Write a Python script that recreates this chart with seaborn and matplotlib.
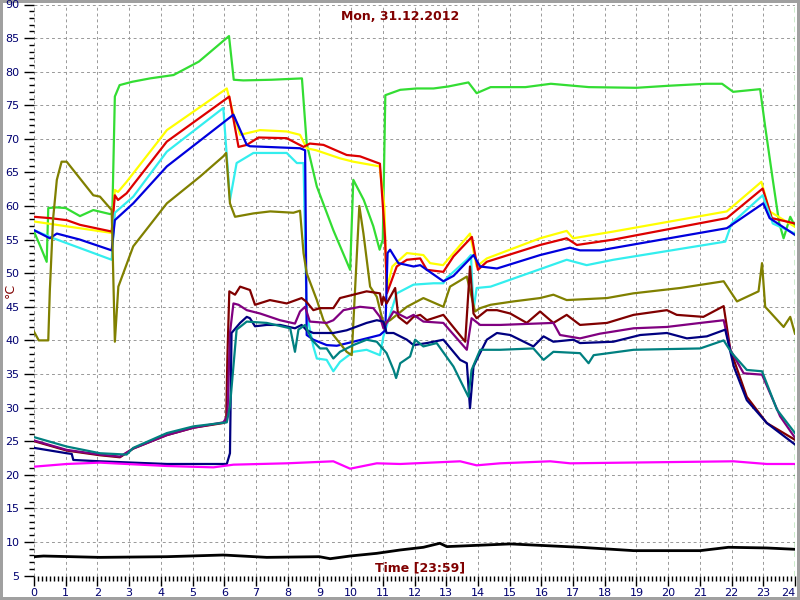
import matplotlib
matplotlib.use("Agg")
import matplotlib.pyplot as plt
from matplotlib.ticker import MultipleLocator
import seaborn as sns

# ── Data (hour of day, °C) ───────────────────────────────────────────────────
green_h = [0.0, 0.2, 0.4, 0.45, 0.7, 1.0, 1.45, 1.87, 2.4, 2.47,
           2.55, 2.7, 3.1, 3.66, 4.4, 4.8, 5.2, 6.15, 6.3, 6.6,
           7.5, 8.45, 8.6, 8.92, 9.44, 9.97, 10.07, 10.4, 10.7, 10.9,
           11.0, 11.08, 11.55, 12.07, 12.6, 13.07, 13.7, 13.96, 14.4, 15.5,
           16.3, 17.5, 19.0, 20.0, 21.2, 21.7, 22.05, 22.9, 23.06, 23.3,
           23.5, 23.64, 23.85, 24.0]
green_v = [56.2, 54.0, 51.7, 59.7, 59.8, 59.7, 58.5, 59.4, 58.8, 58.9,
           76.3, 78.0, 78.5, 79.0, 79.5, 80.5, 81.5, 85.3, 78.8, 78.7,
           78.8, 79.0, 69.3, 62.9, 56.4, 50.5, 63.9, 60.9, 57.0, 53.5,
           55.0, 76.5, 77.3, 77.5, 77.5, 77.8, 78.4, 76.8, 77.7, 77.7,
           78.2, 77.7, 77.6, 77.9, 78.2, 78.2, 77.0, 77.4, 71.8, 63.9,
           57.5, 55.2, 58.4, 57.0]

yellow_h = [0.0, 1.0, 2.45, 2.55, 2.65, 2.92, 4.19, 6.08, 6.28, 6.5,
            7.13, 7.97, 8.39, 8.6, 8.9, 9.65, 10.07, 10.9, 11.05, 11.12,
            11.3, 11.76, 12.28, 12.49, 12.9, 13.23, 13.75, 13.96, 14.28, 15.96,
            16.8, 17.0, 18.27, 21.85, 22.94, 23.2, 24.0]
yellow_v = [57.7, 57.0, 56.0, 62.4, 62.1, 63.6, 71.3, 77.5, 73.8, 70.6,
            71.3, 71.1, 70.6, 68.6, 68.3, 67.1, 66.6, 65.9, 60.0, 47.5,
            51.0, 53.0, 52.7, 51.5, 51.2, 53.0, 55.9, 51.0, 52.2, 55.2,
            56.3, 55.2, 56.2, 59.2, 63.6, 59.2, 56.9]

red_h = [0.0, 0.5, 1.03, 1.45, 2.45, 2.55, 2.65, 2.92, 4.19, 6.16,
         6.45, 6.71, 7.08, 7.97, 8.5, 8.7, 9.13, 9.86, 10.28, 10.91,
         11.07, 11.13, 11.44, 11.76, 12.18, 12.39, 12.91, 13.23, 13.81, 14.0,
         14.28, 15.96, 16.8, 17.12, 18.27, 21.85, 22.98, 23.27, 24.0]
red_v = [58.4, 58.2, 57.9, 57.2, 56.2, 61.6, 60.9, 61.9, 69.6, 76.3,
         68.8, 69.1, 70.2, 70.1, 68.8, 69.3, 69.1, 67.6, 67.4, 66.3,
         55.4, 47.0, 51.0, 52.0, 52.2, 50.5, 50.2, 52.5, 55.4, 50.5,
         51.7, 54.2, 55.2, 54.2, 55.0, 58.2, 62.6, 58.2, 57.4]

cyan_h = [0.0, 0.5, 2.45, 2.55, 3.13, 4.19, 5.97, 6.18, 6.39, 6.92,
          7.97, 8.29, 8.5, 8.6, 8.81, 8.92, 9.23, 9.44, 9.65, 10.07,
          10.49, 10.91, 11.02, 11.44, 11.97, 12.6, 12.91, 13.02, 13.65, 13.78,
          13.86, 13.96, 14.4, 16.8, 17.43, 18.27, 21.8, 22.0, 22.98, 23.3,
          24.0]
cyan_v = [56.4, 55.4, 52.0, 59.0, 61.4, 68.1, 74.6, 60.9, 66.4, 67.9,
          67.9, 66.4, 66.4, 44.0, 39.1, 37.3, 37.1, 35.4, 36.8, 38.3,
          38.6, 37.8, 40.6, 47.0, 48.3, 48.5, 48.5, 49.3, 52.0, 52.7,
          44.5, 47.8, 48.0, 52.0, 51.2, 52.0, 54.7, 57.4, 61.6, 57.4,
          55.9]

blue_h = [0.0, 0.5, 0.72, 1.45, 2.45, 2.55, 3.13, 4.19, 6.29, 6.71,
          6.81, 8.39, 8.55, 8.6, 8.81, 9.23, 9.55, 10.07, 10.49, 10.91,
          11.08, 11.15, 11.23, 11.49, 11.97, 12.18, 12.39, 12.91, 13.23, 13.86,
          14.07, 14.6, 15.96, 16.9, 17.22, 17.85, 21.85, 23.0, 23.2, 24.0]
blue_v = [56.4, 55.2, 55.9, 55.0, 53.4, 57.9, 60.4, 65.9, 73.6, 69.1,
          68.9, 68.6, 68.3, 40.8, 40.1, 39.3, 39.2, 39.8, 40.3, 40.8,
          41.5, 53.0, 53.5, 51.5, 51.0, 51.2, 50.5, 48.8, 49.6, 52.7,
          51.0, 50.7, 52.7, 53.8, 53.4, 53.4, 56.7, 60.4, 58.2, 55.7]

olive_h = [0.0, 0.15, 0.45, 0.5, 0.6, 0.72, 0.87, 1.03, 1.45, 1.87,
           2.08, 2.45, 2.55, 2.66, 3.13, 4.19, 5.24, 5.97, 6.06, 6.18,
           6.34, 6.92, 7.45, 8.18, 8.39, 8.5, 8.6, 8.92, 9.13, 9.44,
           9.86, 10.02, 10.26, 10.39, 10.6, 10.81, 11.02, 11.23, 11.76, 12.28,
           12.91, 13.12, 13.65, 13.91, 14.07, 14.4, 15.12, 15.96, 16.38, 16.8,
           18.07, 18.9, 20.38, 21.75, 22.17, 22.85, 22.96, 23.06, 23.64, 23.85,
           24.0]
olive_v = [41.3, 40.0, 40.0, 47.5, 58.0, 63.9, 66.6, 66.6, 64.1, 61.6,
           61.4, 59.4, 39.8, 48.0, 54.0, 60.4, 64.4, 67.4, 67.9, 60.4,
           58.4, 58.9, 59.2, 59.0, 59.3, 53.0, 50.0, 46.0, 43.0, 40.8,
           38.3, 37.8, 60.0, 55.9, 48.0, 46.5, 42.5, 43.0, 45.0, 46.3,
           45.0, 48.0, 49.5, 44.3, 44.8, 45.3, 45.8, 46.3, 46.8, 46.0,
           46.3, 47.0, 47.8, 48.8, 45.8, 47.3, 51.5, 45.0, 42.0, 43.5,
           41.0]

maroon_h = [0.0, 1.03, 2.08, 2.71, 3.13, 4.19, 5.03, 5.97, 6.06, 6.1,
            6.16, 6.34, 6.5, 6.81, 6.97, 7.44, 7.97, 8.44, 8.58, 8.81,
            9.02, 9.44, 9.65, 10.07, 10.49, 10.91, 10.97, 11.02, 11.12, 11.39,
            11.49, 11.76, 11.97, 12.18, 12.39, 12.91, 13.6, 13.75, 13.86, 13.96,
            14.28, 14.6, 15.02, 15.54, 15.96, 16.38, 16.8, 17.22, 18.07, 18.91,
            19.96, 20.27, 21.11, 21.43, 21.75, 21.96, 22.48, 23.11, 24.0]
maroon_v = [25.0, 23.6, 22.9, 22.6, 23.9, 25.9, 27.0, 27.7, 27.9, 37.6,
            47.3, 46.8, 48.0, 47.5, 45.3, 46.0, 45.5, 46.3, 45.8, 44.5,
            44.8, 44.8, 46.3, 46.8, 47.3, 47.0, 45.3, 46.5, 45.5, 47.8,
            43.5, 42.5, 43.5, 43.8, 43.0, 43.8, 39.8, 51.0, 44.0, 43.3,
            44.5, 44.5, 44.0, 42.6, 44.3, 42.6, 43.8, 42.3, 42.6, 43.8,
            44.5, 43.8, 43.5, 44.3, 45.1, 38.6, 31.6, 27.7, 25.2]

purple_h = [0.0, 1.03, 2.08, 2.71, 3.13, 4.19, 5.03, 5.97, 6.1, 6.18,
            6.29, 6.45, 6.71, 7.13, 7.76, 8.23, 8.39, 8.55, 8.7, 9.23,
            9.44, 9.76, 10.28, 10.7, 10.91, 11.02, 11.34, 11.76, 11.97, 12.28,
            12.91, 13.02, 13.65, 13.8, 14.07, 14.7, 16.38, 16.59, 17.22, 17.85,
            18.91, 19.96, 21.02, 21.75, 21.96, 22.38, 22.96, 23.53, 24.0]
purple_v = [25.1, 23.7, 23.0, 22.7, 23.9, 25.9, 27.0, 27.8, 28.7, 41.1,
            45.5, 45.3, 44.5, 44.0, 43.0, 42.5, 44.3, 45.0, 42.8, 42.6,
            43.0, 44.5, 45.0, 44.8, 43.5, 41.8, 44.3, 43.3, 43.8, 42.8,
            42.6, 42.0, 38.6, 43.3, 42.3, 42.3, 42.6, 40.8, 40.3, 41.0,
            41.8, 42.0, 42.6, 43.0, 38.6, 35.1, 34.9, 28.7, 25.5]

navy_h = [0.0, 1.03, 1.19, 1.24, 2.08, 3.13, 4.19, 6.08, 6.18, 6.23,
          6.5, 6.71, 6.81, 6.97, 7.34, 7.76, 8.23, 8.44, 8.6, 8.81,
          9.44, 9.86, 10.49, 10.81, 11.02, 11.12, 11.34, 11.76, 11.97, 12.39,
          12.91, 13.44, 13.65, 13.75, 13.86, 13.96, 14.28, 14.6, 15.02, 15.75,
          16.07, 16.38, 17.01, 17.22, 18.27, 19.12, 19.96, 20.59, 21.22, 21.8,
          22.07, 22.48, 23.11, 24.0]
navy_v = [24.0, 23.2, 23.1, 22.2, 22.0, 21.8, 21.6, 21.6, 23.2, 41.1,
          42.6, 43.5, 43.3, 42.1, 42.3, 42.3, 41.8, 42.3, 41.5, 41.1,
          41.1, 41.5, 42.6, 43.0, 42.8, 41.1, 41.1, 40.1, 39.3, 39.6,
          40.1, 37.1, 36.6, 29.9, 36.1, 37.1, 40.1, 41.1, 40.8, 39.1,
          40.6, 39.8, 40.1, 39.6, 39.8, 40.8, 41.1, 40.3, 40.6, 41.6,
          36.1, 31.1, 27.7, 24.5]

teal_h = [0.0, 1.03, 2.08, 2.92, 3.13, 4.19, 5.03, 6.08, 6.18, 6.39,
          6.71, 7.34, 8.08, 8.23, 8.34, 8.55, 8.76, 9.02, 9.23, 9.44,
          9.65, 10.07, 10.49, 10.81, 11.12, 11.34, 11.42, 11.55, 11.86, 12.02,
          12.28, 12.7, 13.23, 13.7, 13.8, 14.07, 14.7, 15.75, 16.07, 16.38,
          17.22, 17.49, 17.65, 18.91, 21.01, 21.75, 22.01, 22.48, 22.96, 23.43,
          24.0]
teal_v = [25.6, 24.2, 23.2, 23.0, 24.0, 26.2, 27.2, 27.8, 30.2, 41.6,
          42.8, 42.6, 41.8, 38.3, 41.6, 42.3, 40.1, 38.8, 38.8, 37.3,
          38.3, 39.3, 40.1, 39.8, 38.1, 35.6, 34.4, 36.6, 37.6, 40.1,
          39.1, 39.6, 36.1, 31.6, 35.6, 38.6, 38.6, 38.8, 37.1, 38.3,
          38.1, 36.6, 37.8, 38.6, 38.8, 40.0, 38.1, 35.6, 35.4, 29.7,
          26.2]

magenta_h = [0.0, 1.03, 2.08, 4.19, 5.66, 6.29, 7.97, 9.44, 9.97, 10.81,
             11.55, 13.44, 13.96, 14.7, 16.28, 16.91, 22.06, 23.11, 24.0]
magenta_v = [21.2, 21.6, 21.8, 21.3, 21.1, 21.5, 21.7, 22.0, 20.9, 21.7,
             21.6, 22.0, 21.4, 21.7, 22.0, 21.7, 22.0, 21.6, 21.6]

black_h = [0.0, 0.3, 2.08, 4.19, 5.97, 7.34, 9.0, 9.34, 9.97, 10.81,
           11.55, 12.28, 12.8, 13.02, 15.02, 17.22, 18.91, 21.01, 21.9, 23.11,
           24.0]
black_v = [7.8, 7.9, 7.7, 7.8, 8.05, 7.7, 7.8, 7.5, 7.9, 8.3,
           8.8, 9.2, 9.8, 9.3, 9.7, 9.2, 8.7, 8.7, 9.2, 9.1,
           8.9]

hour_ticks = list(range(0, 25))
temp_ticks = list(range(5, 91, 5))

series = [
    (green_h,   green_v,   "#33dd33", 1.6),
    (yellow_h,  yellow_v,  "#ffff00", 1.6),
    (red_h,     red_v,     "#dd0000", 1.6),
    (cyan_h,    cyan_v,    "#33eeee", 1.6),
    (blue_h,    blue_v,    "#0000dd", 1.6),
    (olive_h,   olive_v,   "#808000", 1.6),
    (maroon_h,  maroon_v,  "#800000", 1.6),
    (purple_h,  purple_v,  "#800080", 1.6),
    (navy_h,    navy_v,    "#000080", 1.6),
    (teal_h,    teal_v,    "#008080", 1.6),
    (magenta_h, magenta_v, "#ff00ff", 1.6),
    (black_h,   black_v,   "#000000", 2.0),
]

# ── Figure ────────────────────────────────────────────────────────────────────
plt.rcParams["font.family"] = ["DejaVu Sans"]
fig = plt.figure(figsize=(8, 6), dpi=100)
fig.patch.set_facecolor("white")
fig.patch.set_edgecolor("#a0a0a0")
fig.patch.set_linewidth(3)
ax = fig.add_axes([34 / 800, 24.5 / 600, 761 / 800, 571 / 600])

for hx, vy, col, lw in series:
    sns.lineplot(x=hx, y=vy, color=col, linewidth=lw, ax=ax,
                 estimator=None, sort=False, legend=False)

# cursor line at the end of the day
ax.axvline(24, color="#00a000", ls=(0, (4, 3)), lw=1)

ax.set_xlim(0, 24)
ax.set_ylim(5, 90)
ax.set_xticks(hour_ticks)
ax.set_yticks(temp_ticks)
ax.xaxis.set_minor_locator(MultipleLocator(0.125))
ax.yaxis.set_minor_locator(MultipleLocator(1))
ax.grid(True, which="major", color="#999999", ls=(0, (3, 3)), lw=0.7)
ax.set_axisbelow(True)
for sp in ax.spines.values():
    sp.set_visible(False)

ax.tick_params(which="major", length=7, width=1, color="black",
               labelsize=8, labelcolor="#000070")
ax.tick_params(which="minor", length=3.5, width=1, color="black")
ax.tick_params(axis="x", which="both", pad=2)
ax.set_xlabel("")
ax.set_ylabel("")

# keep the last hour label inside the window, as in the original
last_tick = ax.xaxis.get_major_ticks()[-1]
last_tick.label1.set_horizontalalignment("right")

fig.text(0.5, 1 - 17 / 600, "Mon, 31.12.2012", color="#800000",
         fontsize=9, fontweight="bold", ha="center", va="center")
fig.text(420 / 800, 1 - 568 / 600, "Time [23:59]", color="#800000",
         fontsize=9, fontweight="bold", ha="center", va="center")
fig.text(10 / 800, 1 - 290 / 600, "°C", color="#800000", fontsize=9,
         rotation=90, ha="center", va="center")

fig.savefig("out.png", dpi=100, facecolor="white")
